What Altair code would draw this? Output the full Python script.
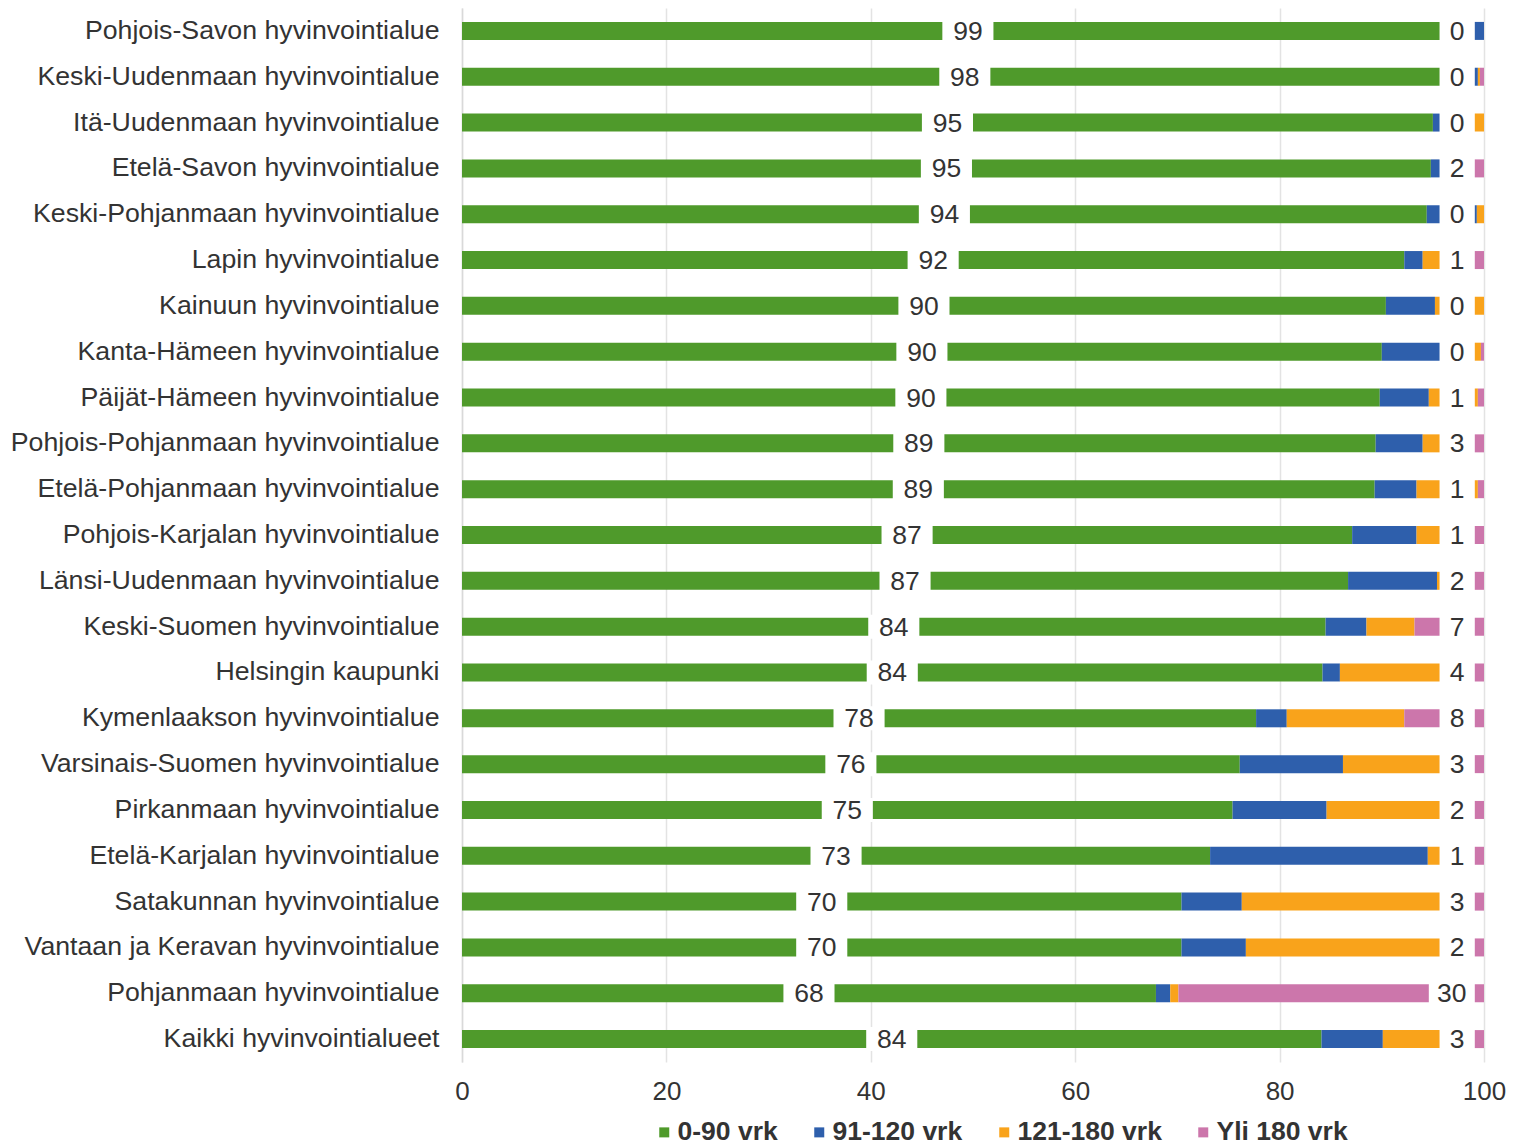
import altair as alt
import pandas as pd

regions = [
    "Pohjois-Savon hyvinvointialue",
    "Keski-Uudenmaan hyvinvointialue",
    "Itä-Uudenmaan hyvinvointialue",
    "Etelä-Savon hyvinvointialue",
    "Keski-Pohjanmaan hyvinvointialue",
    "Lapin hyvinvointialue",
    "Kainuun hyvinvointialue",
    "Kanta-Hämeen hyvinvointialue",
    "Päijät-Hämeen hyvinvointialue",
    "Pohjois-Pohjanmaan hyvinvointialue",
    "Etelä-Pohjanmaan hyvinvointialue",
    "Pohjois-Karjalan hyvinvointialue",
    "Länsi-Uudenmaan hyvinvointialue",
    "Keski-Suomen hyvinvointialue",
    "Helsingin kaupunki",
    "Kymenlaakson hyvinvointialue",
    "Varsinais-Suomen hyvinvointialue",
    "Pirkanmaan hyvinvointialue",
    "Etelä-Karjalan hyvinvointialue",
    "Satakunnan hyvinvointialue",
    "Vantaan ja Keravan hyvinvointialue",
    "Pohjanmaan hyvinvointialue",
    "Kaikki hyvinvointialueet",
]

series = ["0-90 vrk", "91-120 vrk", "121-180 vrk", "Yli 180 vrk"]
colors = ["#4f9a2b", "#2e5fac", "#f9a31b", "#cc76ab"]

green = [99.0, 98.4, 95.0, 94.8, 94.4, 92.2, 90.4, 90.0, 89.8, 89.4, 89.3, 87.1,
         86.7, 84.5, 84.2, 77.7, 76.1, 75.4, 73.2, 70.4, 70.4, 67.9, 84.1]
blue = [1.0, 1.0, 0.7, 2.2, 4.9, 1.8, 4.8, 8.9, 4.8, 4.6, 4.1, 6.3,
        8.7, 4.0, 1.7, 3.0, 10.1, 9.2, 21.3, 5.9, 6.3, 1.4, 6.0]
orange = [0.0, 0.2, 4.3, 1.0, 0.7, 4.6, 4.8, 0.8, 4.8, 3.0, 6.0, 5.4,
          2.6, 4.7, 10.1, 11.5, 10.8, 13.4, 4.5, 20.7, 21.3, 0.8, 6.9]
pink = [0.0, 0.4, 0.0, 2.0, 0.0, 1.4, 0.0, 0.3, 0.6, 3.0, 0.6, 1.2,
        2.0, 6.8, 4.0, 7.8, 3.0, 2.0, 1.0, 3.0, 2.0, 29.9, 3.0]

green_labels = [99, 98, 95, 95, 94, 92, 90, 90, 90, 89, 89, 87,
                87, 84, 84, 78, 76, 75, 73, 70, 70, 68, 84]
pink_labels = [0, 0, 0, 2, 0, 1, 0, 0, 1, 3, 1, 1,
               2, 7, 4, 8, 3, 2, 1, 3, 2, 30, 3]

FONT = "Liberation Sans"
TXT = "#333333"

rows = []
for i, r in enumerate(regions):
    for k, (s, v) in enumerate(zip(series, [green[i], blue[i], orange[i], pink[i]])):
        rows.append({"region": r, "series": s, "value": v, "k": k})
long_df = pd.DataFrame(rows)

wide_df = pd.DataFrame({
    "region": regions,
    "green": green,
    "gl": green_labels,
    "pl": pink_labels,
})

y_enc = alt.Y(
    "region:N",
    sort=regions,
    title=None,
    scale=alt.Scale(paddingInner=0, paddingOuter=0),
    axis=alt.Axis(
        labelFontSize=26.7, labelFont=FONT, labelColor=TXT, labelPadding=23,
        ticks=False, domain=True, domainColor="#d9d9d9", domainWidth=1.5,
        labelLimit=0, grid=False,
    ),
)

x_scale = alt.Scale(domain=[0, 100], nice=False)

bars = alt.Chart(long_df).mark_bar(size=18).encode(
    y=y_enc,
    x=alt.X(
        "value:Q", stack="zero", scale=x_scale, title=None,
        axis=alt.Axis(
            values=[0, 20, 40, 60, 80, 100], labelFontSize=26, labelFont=FONT,
            labelColor=TXT, labelPadding=16, ticks=False, domain=False,
            labelFlush=False,
            grid=True, gridColor="#e3e3e3", gridWidth=1.5,
        ),
    ),
    color=alt.Color(
        "series:N",
        scale=alt.Scale(domain=series, range=colors),
        legend=alt.Legend(
            orient="none", direction="horizontal", title=None,
            legendX=189, legendY=1111,
            symbolType="square", symbolSize=100, symbolStrokeWidth=0,
            labelFontSize=26.5, labelFont=FONT, labelFontWeight="bold",
            labelColor=TXT, labelOffset=0, columnPadding=28,
        ),
    ),
    order=alt.Order("k:Q"),
)

base = alt.Chart(wide_df).transform_calculate(
    gx=alt.datum.green / 2,
    gx1=alt.datum.green / 2 - 2.5,
    gx2=alt.datum.green / 2 + 2.5,
    px2="99.1",
    px1="99.1 - 2.4 - 1.05 * length(toString(datum.pl))",
).transform_calculate(
    pxc="(datum.px1 + datum.px2) / 2",
)

gbox = base.mark_bar(size=24, color="white").encode(
    y=alt.Y("region:N", sort=regions),
    x=alt.X("gx1:Q", scale=x_scale),
    x2="gx2:Q",
)
pbox = base.mark_bar(size=24, color="white").encode(
    y=alt.Y("region:N", sort=regions),
    x=alt.X("px1:Q", scale=x_scale),
    x2="px2:Q",
)
gtext = base.mark_text(
    fontSize=26.5, font=FONT, color=TXT, align="center", baseline="middle", dy=1
).encode(
    y=alt.Y("region:N", sort=regions),
    x=alt.X("gx:Q", scale=x_scale),
    text="gl:Q",
)
ptext = base.mark_text(
    fontSize=26.5, font=FONT, color=TXT, align="center", baseline="middle", dy=1
).encode(
    y=alt.Y("region:N", sort=regions),
    x=alt.X("pxc:Q", scale=x_scale),
    text="pl:Q",
)

chart = alt.layer(bars, gbox, pbox, gtext, ptext).properties(
    width=1022,
    height=1054,
    padding={"left": 2, "top": 0, "right": 0, "bottom": 0},
).configure_view(stroke=None)

chart.save("out.html", embed_options={"renderer": "svg", "actions": False})
